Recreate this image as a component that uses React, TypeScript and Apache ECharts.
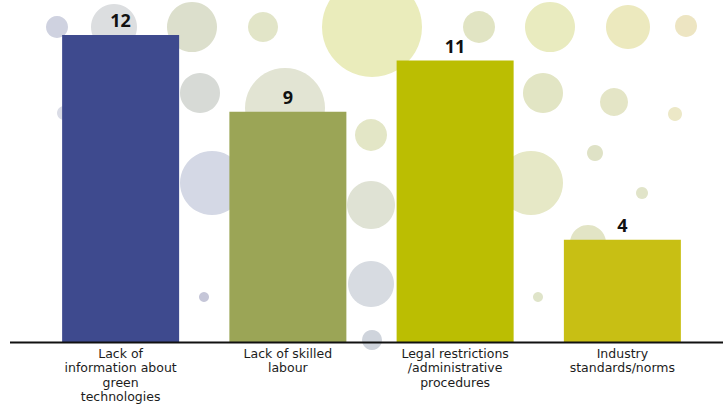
import React, { useEffect, useRef } from "react";
import * as echarts from "echarts";

// Barriers to adopting green technologies (number of responses)
const categories: string[] = [
  "Lack of\ninformation about\ngreen\ntechnologies",
  "Lack of skilled\nlabour",
  "Legal restrictions\n/administrative\nprocedures",
  "Industry\nstandards/norms",
];
const counts: number[] = [12, 9, 11, 4];
const barColors: string[] = ["#3e4a8e", "#9ba556", "#bbbe02", "#c8bf14"];

// Decorative background bubbles: [cx, cy, r, fill]
const bubbles: [number, number, number, string][] = [
  [57, 27, 11, "#cfd2e0"],
  [114, 27, 23, "#dcdee0"],
  [192, 27, 25, "#dcdfcc"],
  [200, 93, 20, "#d7dad6"],
  [64, 113, 7, "#dadce6"],
  [212, 183, 32, "#d4d8e5"],
  [204, 297, 5, "#c5c6d8"],
  [263, 27, 15, "#e2e5c8"],
  [285, 108, 40, "#e2e4d3"],
  [372, 27, 50, "#eaecbb"],
  [371, 135, 16, "#e3e6c6"],
  [371, 205, 24, "#dfe2d4"],
  [371, 284, 23, "#d7dbe1"],
  [372, 340, 10, "#cfd4dc"],
  [479, 27, 16, "#e1e4c3"],
  [550, 27, 25, "#e9ebbf"],
  [628, 27, 22, "#ece9be"],
  [686, 26, 11, "#ede5c2"],
  [543, 93, 20, "#e2e5c4"],
  [614, 102, 14, "#e4e5c6"],
  [675, 114, 7, "#ece8c7"],
  [595, 153, 8, "#dfe2c6"],
  [531, 183, 32, "#e6e8c6"],
  [642, 193, 6, "#e1e4c9"],
  [588, 243, 18, "#e2e4c5"],
  [538, 297, 5, "#dfe4c9"],
];

const LABEL_FONT = "'DejaVu Sans', 'Open Sans', sans-serif";
const VALUE_FONT = "'Open Sans', 'DejaVu Sans', sans-serif";

export default function App() {
  const ref = useRef<HTMLDivElement>(null);

  useEffect(() => {
    document.body.style.margin = "0";
    if (!ref.current) return;
    const chart = echarts.init(ref.current, null, { renderer: "svg" });

    const bubbleGraphics = bubbles.map(([cx, cy, r, fill]) => ({
      type: "circle",
      z: 0,
      silent: true,
      shape: { cx, cy, r },
      style: { fill },
    }));

    chart.setOption({
      animation: false,
      backgroundColor: "#ffffff",
      textStyle: { fontFamily: LABEL_FONT },
      grid: { left: 37, right: 17, top: 35, bottom: 65, containLabel: false },
      xAxis: {
        type: "category",
        data: categories,
        axisLine: { show: false },
        axisTick: { show: false },
        axisLabel: {
          interval: 0,
          margin: 4,
          fontSize: 12.5,
          lineHeight: 14.5,
          color: "#1c1c1c",
          fontFamily: LABEL_FONT,
        },
      },
      yAxis: {
        type: "value",
        min: 0,
        max: 12,
        show: false,
        splitLine: { show: false },
      },
      graphic: [
        ...bubbleGraphics,
        {
          type: "line",
          z: 100,
          silent: true,
          shape: { x1: 10, y1: 342.5, x2: 723, y2: 342.5 },
          style: { stroke: "#111111", lineWidth: 2 },
        },
      ],
      series: [
        {
          type: "bar",
          z: 5,
          barWidth: 117,
          data: counts.map((v, i) => ({
            value: v,
            itemStyle: { color: barColors[i] },
          })),
          label: {
            show: true,
            position: "top",
            distance: 6,
            fontSize: 18,
            fontWeight: "bold",
            color: "#111111",
            fontFamily: VALUE_FONT,
          },
        },
      ],
    });

    return () => chart.dispose();
  }, []);

  return <div ref={ref} style={{ width: 723, height: 407 }} />;
}
